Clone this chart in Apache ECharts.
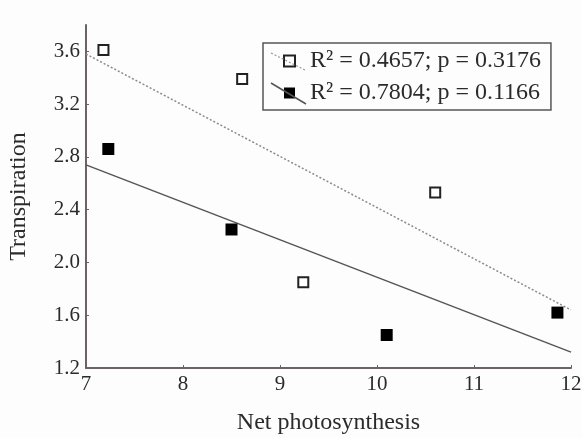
<!DOCTYPE html>
<html>
<head>
<meta charset="utf-8">
<script src="https://cdn.jsdelivr.net/npm/echarts@6/dist/echarts.min.js"></script>
<style>
  html, body { margin: 0; padding: 0; background: #fdfdfd; }
  #chart { width: 582px; height: 438px; }
</style>
</head>
<body>
<div id="chart"></div>
<script>
// open squares
const openX = [7.18, 8.61, 9.24, 10.6]
const openY = [3.61, 3.39, 1.85, 2.53]
// filled squares
const fillX = [7.23, 8.5, 10.1, 11.86]
const fillY = [2.86, 2.25, 1.45, 1.62]
// fitted lines, read at x = 7 and x = 12
const fitX = [7, 12]
const openFitY = [3.58, 1.64]
const fillFitY = [2.74, 1.32]
const legendNames = ['R² = 0.4657; p = 0.3176', 'R² = 0.7804; p = 0.1166']

const pairs = (xs, ys) => xs.map((x, i) => [x, ys[i]])

const font = 'Liberation Serif'
const textColor = '#2b2b2b'
const axisColor = '#6b6464'

const chart = echarts.init(document.getElementById('chart'))
chart.setOption({
  animation: false,
  backgroundColor: '#fdfdfd',
  textStyle: { fontFamily: font },
  grid: { left: 86, right: 11, top: 25, bottom: 70, outerBoundsMode: 'none' },
  legend: {
    orient: 'vertical',
    left: 263,
    top: 43,
    padding: [6, 10, 5, 20],
    itemGap: 8,
    itemWidth: 11,
    itemHeight: 11,
    borderColor: '#555',
    borderWidth: 1.5,
    data: legendNames,
    textStyle: { fontFamily: font, fontSize: 24, color: textColor, padding: [0, 0, 0, 10] }
  },
  // the little slanted line samples behind the legend symbols
  graphic: [
    { type: 'line', z: 90, shape: { x1: 271, y1: 53, x2: 305, y2: 70 }, style: { stroke: '#999', lineWidth: 1.2, lineDash: [2, 2] } },
    { type: 'line', z: 90, shape: { x1: 271, y1: 83, x2: 306, y2: 104 }, style: { stroke: '#555', lineWidth: 1.5 } }
  ],
  xAxis: {
    type: 'value',
    min: 7,
    max: 12,
    interval: 1,
    name: 'Net photosynthesis',
    nameLocation: 'middle',
    nameGap: 43,
    nameTextStyle: { fontFamily: font, fontSize: 24, color: textColor },
    axisLine: { lineStyle: { color: axisColor, width: 2 } },
    axisTick: { inside: true, length: 3, lineStyle: { color: axisColor } },
    axisLabel: { fontFamily: font, fontSize: 21, color: textColor, margin: 6 },
    splitLine: { show: false }
  },
  yAxis: {
    type: 'value',
    min: 1.2,
    max: 3.8,
    interval: 0.4,
    name: 'Transpiration',
    nameLocation: 'middle',
    nameGap: 55,
    nameTextStyle: { fontFamily: font, fontSize: 24, color: textColor },
    axisLine: { show: true, lineStyle: { color: axisColor, width: 2 } },
    axisTick: { show: true, inside: true, length: 3, lineStyle: { color: axisColor } },
    axisLabel: {
      fontFamily: font, fontSize: 21, color: textColor, margin: 6, showMaxLabel: false,
      formatter: v => v.toFixed(1)
    },
    splitLine: { show: false }
  },
  series: [
    {
      type: 'line',
      data: pairs(fitX, openFitY),
      symbol: 'none',
      lineStyle: { color: '#8a8a8a', width: 1.5, type: [2, 2] },
      z: 1
    },
    {
      type: 'line',
      data: pairs(fitX, fillFitY),
      symbol: 'none',
      lineStyle: { color: '#555', width: 1.5 },
      z: 1
    },
    {
      name: legendNames[0],
      type: 'scatter',
      data: pairs(openX, openY),
      symbol: 'rect',
      symbolSize: 10,
      itemStyle: { color: '#fff', borderColor: '#222', borderWidth: 2, opacity: 1 },
      z: 3
    },
    {
      name: legendNames[1],
      type: 'scatter',
      data: pairs(fillX, fillY),
      symbol: 'rect',
      symbolSize: 12,
      itemStyle: { color: '#000', opacity: 1 },
      z: 3
    }
  ]
})
</script>
</body>
</html>
